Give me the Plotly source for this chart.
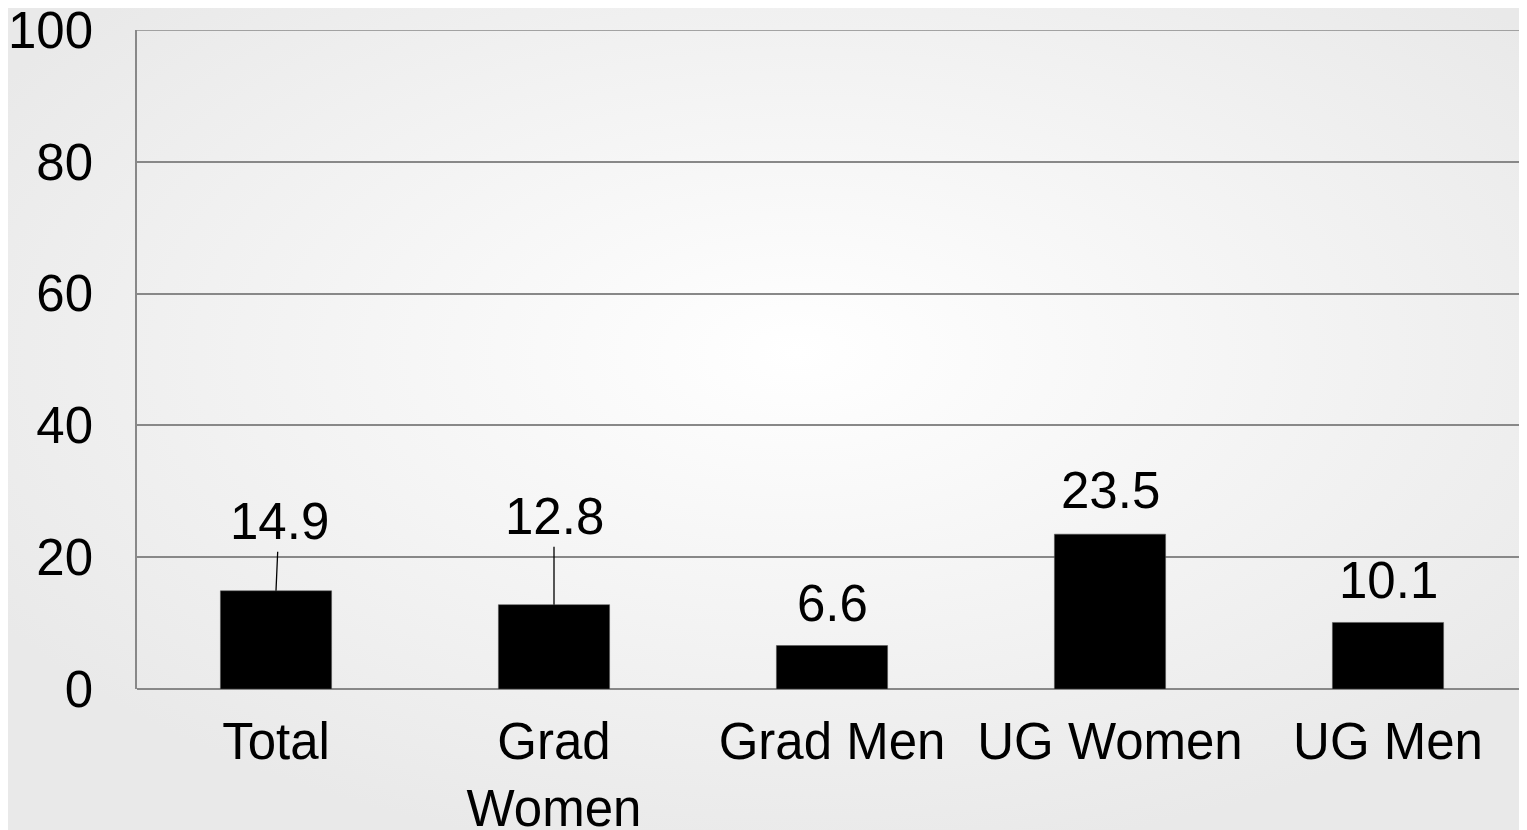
import base64
import plotly.graph_objects as go

categories = ["Total", "Grad<br>Women", "Grad Men", "UG Women", "UG Men"]
values = [14.9, 12.8, 6.6, 23.5, 10.1]
value_labels = ["14.9", "12.8", "6.6", "23.5", "10.1"]
y_ticks = [0, 20, 40, 60, 80, 100]

# label placement (pixel offsets above bar top) and whether a leader line is drawn
label_dx = [3, 0, 0, 0, 0]
label_dy = [-69, -88, -42, -44, -42]
leader = [True, True, False, False, False]

# the page body has an 8px margin; size the figure so the plot lands where the reference's does
W, H = 1519, 822
L, R, T, B = 129, 0, 22, 141
pw, ph = W - L - R, H - T - B

FONT = "Liberation Sans, Arial, sans-serif"
FS = 51

svg = f'''<svg xmlns="http://www.w3.org/2000/svg" width="{W}" height="{H}" viewBox="0 0 {W} {H}" preserveAspectRatio="none">
<defs><radialGradient id="g" cx="52%" cy="42%" r="62%" fx="52%" fy="42%">
<stop offset="0%" stop-color="#ffffff"/><stop offset="100%" stop-color="#e9e9e9"/></radialGradient></defs>
<rect width="{W}" height="{H}" fill="url(#g)"/></svg>'''
bg_src = "data:image/svg+xml;base64," + base64.b64encode(svg.encode()).decode()

fig = go.Figure()
fig.add_trace(go.Bar(
    x=categories, y=values, width=0.4,
    marker=dict(color="#000000", line=dict(color="#555555", width=0.5)),
    hoverinfo="x+y",
))

for c, v, t, dx, dy, ld in zip(categories, values, value_labels, label_dx, label_dy, leader):
    if ld:
        fig.add_annotation(x=c, y=v, text=t, showarrow=True, arrowhead=0,
                           arrowwidth=1.3, arrowcolor="#000000", ax=dx, ay=dy,
                           standoff=0, startstandoff=0,
                           font=dict(family=FONT, size=FS, color="#000000"))
    else:
        fig.add_annotation(x=c, y=v, text=t, showarrow=False, yanchor="middle",
                           xshift=dx, yshift=-dy,
                           font=dict(family=FONT, size=FS, color="#000000"))

fig.add_layout_image(dict(
    source=bg_src, xref="paper", yref="paper",
    x=-L / pw, y=1 + T / ph, sizex=W / pw, sizey=H / ph,
    xanchor="left", yanchor="top", sizing="stretch", layer="below",
))

# top gridline at 100 (plotly omits the gridline on the range edge)
fig.add_shape(type="line", xref="paper", yref="y", x0=0, x1=1, y0=100, y1=100,
              line=dict(color="#888888", width=1.5), layer="below")

fig.update_layout(
    width=W, height=H,
    margin=dict(l=L, r=R, t=T, b=B, autoexpand=False),
    paper_bgcolor="#eeeeee", plot_bgcolor="rgba(0,0,0,0)",
    showlegend=False,
    font=dict(family=FONT, size=FS, color="#000000"),
    bargap=0.6,
)
fig.update_xaxes(
    showgrid=False, showline=False, zeroline=False, automargin=False,
    ticks="outside", ticklen=0, ticklabelstandoff=8, ticklabeloverflow="allow",
    tickfont=dict(family=FONT, size=FS, color="#000000"),
)
fig.update_yaxes(
    range=[0, 100], tickvals=y_ticks, showgrid=True, automargin=False,
    gridcolor="#888888", gridwidth=1.5,
    showline=True, linecolor="#888888", linewidth=1.5,
    zeroline=True, zerolinecolor="#888888", zerolinewidth=1.5,
    ticks="outside", ticklen=0, ticklabelstandoff=32, ticklabeloverflow="allow",
    tickfont=dict(family=FONT, size=FS, color="#000000"),
)

fig.write_html("out.html")
